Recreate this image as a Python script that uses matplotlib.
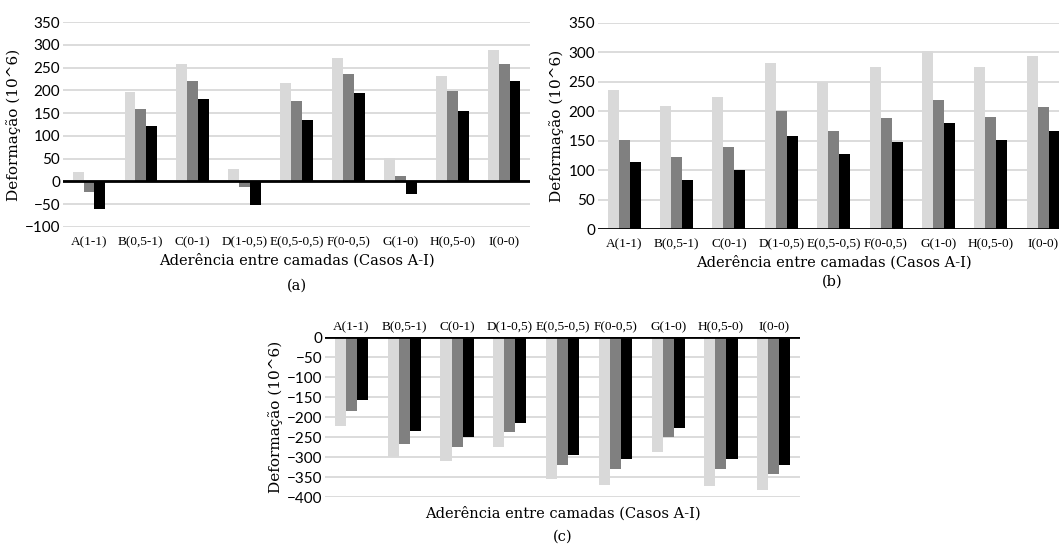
import numpy as np
import matplotlib
matplotlib.use('Agg')
import matplotlib.pyplot as plt

casos = ['A(1-1)', 'B(0,5-1)', 'C(0-1)', 'D(1-0,5)', 'E(0,5-0,5)',
         'F(0-0,5)', 'G(1-0)', 'H(0,5-0)', 'I(0-0)']

# (a)
a_s1 = [20, 196, 259, 27, 216, 271, 51, 232, 289]
a_s2 = [-24, 160, 220, -12, 176, 236, 12, 199, 257]
a_s3 = [-61, 121, 181, -51, 135, 195, -28, 154, 220]
# (b)
b_s1 = [237, 209, 225, 282, 249, 275, 303, 276, 294]
b_s2 = [151, 122, 140, 200, 167, 188, 220, 191, 207]
b_s3 = [113, 84, 101, 158, 127, 148, 180, 152, 167]
# (c)
c_s1 = [-222, -299, -310, -275, -356, -370, -287, -372, -382]
c_s2 = [-186, -268, -275, -238, -320, -330, -251, -330, -343]
c_s3 = [-158, -236, -249, -214, -294, -306, -228, -306, -320]

cores = ['#d9d9d9', '#808080', '#000000']
serif = 'DejaVu Serif'
serif_tick = 'Liberation Serif'
sans = 'Lato'


def painel(ax, series, ylim, yticks, top_labels=False):
    x = np.arange(len(casos))
    w = 0.21
    for k, s in enumerate(series):
        ax.bar(x + (k - 1) * w, s, width=w, color=cores[k], zorder=2)
    ax.set_xlim(-0.5, len(casos) - 0.5)
    ax.set_ylim(*ylim)
    ax.set_yticks(yticks)
    ax.yaxis.grid(True, color='#d9d9d9', lw=1.3, zorder=0)
    ax.axhline(0, color='black', lw=2, zorder=3)
    for sp in ax.spines.values():
        sp.set_visible(False)
    ax.set_xticks(x)
    ax.set_xticklabels(casos, fontfamily=serif_tick, fontsize=9.5)
    ax.tick_params(length=0, pad=7)
    ax.tick_params(axis='y', pad=2)
    if top_labels:
        ax.xaxis.set_ticks_position('top')
        ax.tick_params(axis='x', pad=3)
    for t in ax.get_yticklabels():
        t.set_fontfamily(sans)
        t.set_fontsize(11)
    ax.set_ylabel('Deformação (10^6)', fontfamily=serif, fontsize=11, labelpad=3)
    ax.set_xlabel('Aderência entre camadas (Casos A-I)', fontfamily=serif, fontsize=10.5, labelpad=3)


fig = plt.figure(figsize=(10.59, 5.45), dpi=100)

ax1 = fig.add_axes([0.0595, 0.5835, 0.441, 0.376])
painel(ax1, [a_s1, a_s2, a_s3], (-100, 350), range(-100, 351, 50))
fig.text(0.0595 + 0.441 / 2, (545 - 286) / 545, '(a)', ha='center', va='center',
         fontfamily=serif, fontsize=10.5)

ax2 = fig.add_axes([0.5647, 0.5798, 0.445, 0.378])
painel(ax2, [b_s1, b_s2, b_s3], (0, 350), range(0, 351, 50))
fig.text(0.5647 + 0.442 / 2, (545 - 282) / 545, '(b)', ha='center', va='center',
         fontfamily=serif, fontsize=10.5)

ax3 = fig.add_axes([0.307, 0.088, 0.4485, 0.2936])
painel(ax3, [c_s1, c_s2, c_s3], (-400, 0), range(-400, 1, 50), top_labels=True)
ax3.xaxis.set_label_position('bottom')
ax3.xaxis.labelpad = 7
fig.text(0.307 + 0.4485 / 2, (545 - 537) / 545, '(c)', ha='center', va='center',
         fontfamily=serif, fontsize=10.5)

fig.savefig('out.png', dpi=100)
